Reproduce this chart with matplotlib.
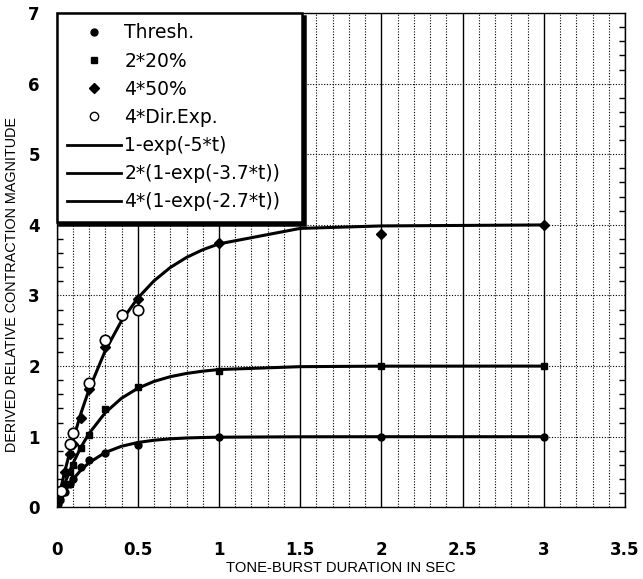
import matplotlib
matplotlib.use("Agg")
import matplotlib.pyplot as plt
from matplotlib.ticker import MultipleLocator
from matplotlib.lines import Line2D

plt.rcParams['font.family'] = ['Liberation Sans', 'DejaVu Sans']

# measured points
t_thresh = [0.01, 0.02, 0.05, 0.08, 0.1, 0.15, 0.2, 0.3, 0.5, 1, 2, 3]
y_thresh = [0.05, 0.1, 0.22, 0.33, 0.4, 0.57, 0.67, 0.77, 0.88, 1.0, 1.0, 1.0]

t_20 = [0.02, 0.05, 0.08, 0.1, 0.15, 0.2, 0.3, 0.5, 1, 2, 3]
y_20 = [0.15, 0.33, 0.5, 0.6, 0.84, 1.02, 1.39, 1.70, 1.93, 2.0, 2.0]

t_50 = [0.05, 0.08, 0.1, 0.15, 0.2, 0.3, 0.5, 1, 2, 3]
y_50 = [0.5, 0.75, 0.9, 1.27, 1.68, 2.27, 2.95, 3.75, 3.87, 4.0]

t_dir = [0.03, 0.08, 0.1, 0.2, 0.3, 0.4, 0.5]
y_dir = [0.23, 0.89, 1.05, 1.76, 2.37, 2.73, 2.80]

# fitted curves, sampled
t_fit = [0, 0.02, 0.05, 0.1, 0.15, 0.2, 0.3, 0.4, 0.5, 0.6, 0.7, 0.8, 0.9, 1.0, 1.5, 2, 3]
fit_1 = [0, 0.095, 0.221, 0.393, 0.528, 0.632, 0.777, 0.865, 0.918, 0.950,
         0.970, 0.982, 0.989, 0.993, 0.999, 1.0, 1.0]
fit_2 = [0, 0.143, 0.338, 0.619, 0.852, 1.046, 1.341, 1.545, 1.686, 1.783,
         1.850, 1.896, 1.928, 1.951, 1.992, 1.999, 2.0]
fit_4 = [0, 0.210, 0.505, 0.946, 1.332, 1.669, 2.220, 2.642, 2.963, 3.208,
         3.396, 3.539, 3.648, 3.731, 3.950, 3.985, 3.999]

xticks = [0, 0.5, 1, 1.5, 2, 2.5, 3, 3.5]
xticklabels = ['0', '0.5', '1', '1.5', '2', '2.5', '3', '3.5']
yticks = [0, 1, 2, 3, 4, 5, 6, 7]

fig = plt.figure(figsize=(6.43, 5.79), dpi=100)
ax = fig.add_axes([0.088, 0.1238, 0.884, 0.8537])

ax.set_xlim(0, 3.5)
ax.set_ylim(0, 7)

# grid
ax.xaxis.set_minor_locator(MultipleLocator(0.1))
ax.yaxis.set_minor_locator(MultipleLocator(0.2))
ax.grid(which='minor', axis='x', color='black', linestyle=(0, (1, 1.5)), linewidth=0.8)
ax.grid(which='major', axis='x', color='black', linestyle='-', linewidth=1.0)
ax.grid(which='major', axis='y', color='black', linestyle=(0, (1, 1.5)), linewidth=0.8)
ax.set_axisbelow(True)

ax.set_xticks(xticks)
ax.set_xticklabels(xticklabels)
ax.set_yticks(yticks)
ax.tick_params(axis='x', which='both', length=0, pad=24)
ax.tick_params(axis='y', which='major', length=0, pad=12)
ax.tick_params(axis='y', which='minor', direction='in', length=4, width=1,
               left=True, right=True)
for lab in ax.get_xticklabels() + ax.get_yticklabels():
    lab.set_fontfamily('DejaVu Sans')
    lab.set_fontweight('bold')
    lab.set_fontsize(12)
for s in ax.spines.values():
    s.set_linewidth(1.0)

ax.plot(t_fit, fit_1, color='black', linewidth=2.2)
ax.plot(t_fit, fit_2, color='black', linewidth=2.2)
ax.plot(t_fit, fit_4, color='black', linewidth=2.2)

ax.plot(t_thresh, y_thresh, 'o', color='black', markersize=5, linestyle='none')
ax.plot(t_20, y_20, 's', color='black', markersize=5, linestyle='none')
ax.plot(t_50, y_50, 'D', color='black', markersize=5, linestyle='none')
ax.plot(t_dir, y_dir, 'o', markerfacecolor='white', markeredgecolor='black',
        markeredgewidth=1.2, markersize=7.5, linestyle='none')

ax.set_xlabel('TONE-BURST DURATION IN SEC', fontsize=10.6)
ax.set_ylabel('DERIVED RELATIVE CONTRACTION MAGNITUDE', fontsize=10.4)
ax.xaxis.set_label_coords(0.5, -0.108)
ax.yaxis.set_label_coords(-0.066, 0.45)

handles = [
    Line2D([], [], marker='o', color='black', linestyle='none', markersize=5),
    Line2D([], [], marker='s', color='black', linestyle='none', markersize=5),
    Line2D([], [], marker='D', color='black', linestyle='none', markersize=5),
    Line2D([], [], marker='o', markerfacecolor='white', markeredgecolor='black',
           linestyle='none', markersize=6),
    Line2D([], [], color='black', linewidth=2),
    Line2D([], [], color='black', linewidth=2),
    Line2D([], [], color='black', linewidth=2),
]
labels = ['Thresh.', '2*20%', '4*50%', '4*Dir.Exp.',
          '1-exp(-5*t)', '2*(1-exp(-3.7*t))', '4*(1-exp(-2.7*t))']
leg = ax.legend(handles, labels, loc='upper left', bbox_to_anchor=(0, 0, 0.432, 1),
                mode='expand', borderaxespad=0,
                prop={'family': 'DejaVu Sans', 'size': 13.5},
                handlelength=2.9, handletextpad=0.16, labelspacing=0.49,
                borderpad=0.55, fancybox=False, framealpha=1,
                shadow={'color': 'black', 'alpha': 1, 'ox': 2, 'oy': -2})
leg.get_frame().set_edgecolor('black')
leg.get_frame().set_linewidth(1.8)

fig.savefig('out.png', dpi=100)
